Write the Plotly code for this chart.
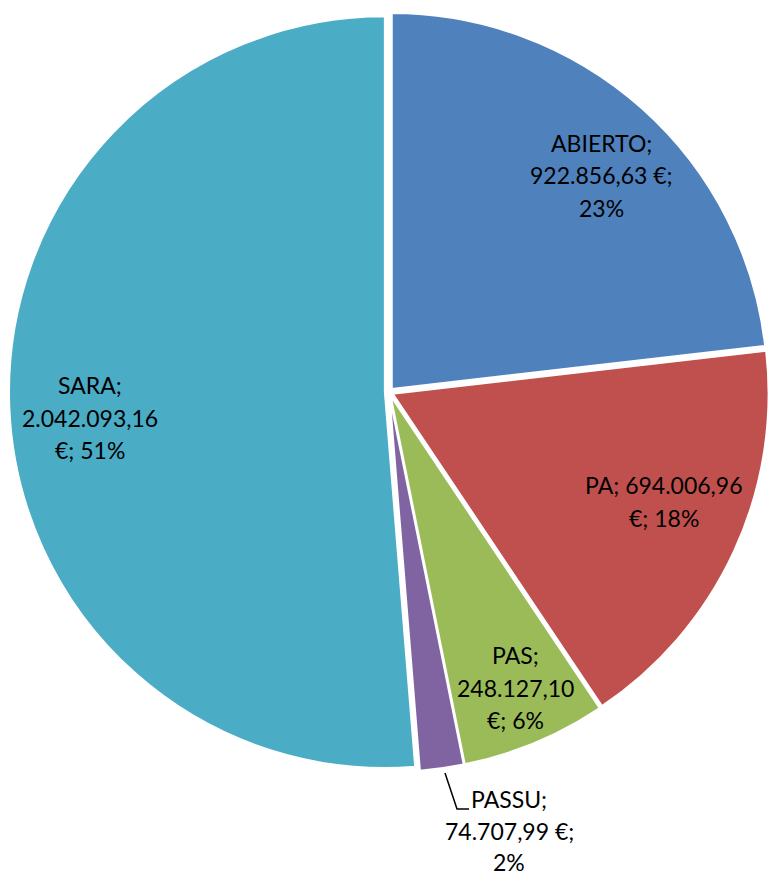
import plotly.graph_objects as go

# data
labels = ['ABIERTO', 'PA', 'PAS', 'PASSU', 'SARA']
values = [922856.63, 694006.96, 248127.10, 74707.99, 2042093.16]
percents = [23, 18, 6, 2, 51]  # as printed on the chart
colors = ['#4F81BD', '#C0504D', '#9BBB59', '#8064A2', '#4BACC6']

W, H = 769, 877


def eur(v):
    s = f"{v:,.2f}"
    return s.replace(',', 'X').replace('.', ',').replace('X', '.')


def label_lines(name, val, pct, style):
    v = eur(val)
    if style == 'a':
        return [f"{name};", f"{v} €;", f"{pct}%"]
    if style == 'b':
        return [f"{name}; {v}", f"€; {pct}%"]
    return [f"{name};", f"{v}", f"€; {pct}%"]


def px(x, y):
    return x / W, 1 - y / H


# label layout (screen pixels): centre x, first line y, wrap style, line gap
label_pos = {
    'ABIERTO': (601, 143, 'a', 32.5),
    'PA': (664, 485, 'b', 32.5),
    'PAS': (515, 655, 'c', 32.5),
    'PASSU': (509, 799, 'a', 31.5),
    'SARA': (90, 385, 'c', 32.5),
}

cx, cy, half = 392, 392, 383
fig = go.Figure(go.Pie(
    labels=labels,
    values=values,
    sort=False,
    direction='clockwise',
    rotation=0,
    textinfo='none',
    hoverinfo='label+value+percent',
    pull=[0.011] * len(labels),
    marker=dict(colors=colors, line=dict(color='white', width=2)),
    domain=dict(x=[(cx - half) / W, min(1.0, (cx + half) / W)],
                y=[1 - (cy + half) / H, 1 - (cy - half) / H]),
))

annotations = []
for name, val, pct in zip(labels, values, percents):
    lx, y0, style, gap = label_pos[name]
    for i, line in enumerate(label_lines(name, val, pct, style)):
        ax, ay = px(lx, y0 + i * gap)
        annotations.append(dict(
            x=ax, y=ay, xref='paper', yref='paper',
            text=line, showarrow=False,
            xanchor='center', yanchor='middle',
            font=dict(family='Lato, Noto Sans, sans-serif', size=23, color='black'),
        ))

# leader line for the small slice
pts = [(445, 773), (457, 809), (469, 809)]
path = 'M ' + ' L '.join('{},{}'.format(*px(x, y)) for x, y in pts)

fig.update_layout(
    width=W, height=H,
    margin=dict(l=0, r=0, t=0, b=0),
    paper_bgcolor='white',
    plot_bgcolor='white',
    showlegend=False,
    annotations=annotations,
    shapes=[dict(type='path', path=path, xref='paper', yref='paper',
                 line=dict(color='black', width=1.5))],
)

# drop the default page margin so the figure fills the window
fig.write_html("out.html", config={'displayModeBar': False},
               post_script="document.body.style.margin='0';document.body.style.overflow='hidden';")
